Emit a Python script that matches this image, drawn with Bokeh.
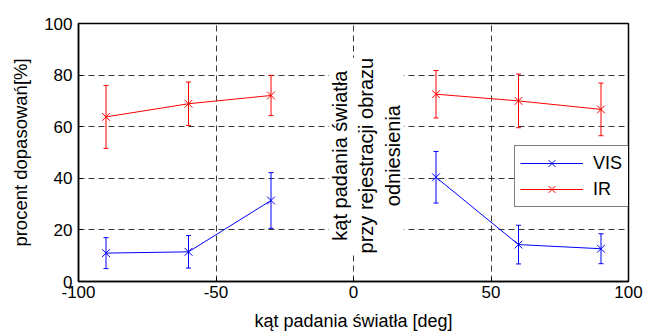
import math
from bokeh.plotting import figure
from bokeh.models import (ColumnDataSource, Whisker, TeeHead, Legend, LegendItem,
                          Label, FixedTicker, Range1d, PrintfTickFormatter)
from bokeh.embed import file_html
from bokeh.resources import INLINE

# ---- data ----
angles = [-90, -60, -30, 30, 60, 90]
vis = [11.0, 11.5, 31.4, 40.4, 14.3, 12.7]
vis_err = [6.0, 6.3, 10.8, 10.0, 7.5, 5.8]
ir = [63.8, 68.9, 72.1, 72.6, 70.0, 66.7]
ir_err = [12.2, 8.4, 7.8, 9.2, 10.4, 10.2]
x_ticks = [-100, -50, 0, 50, 100]
y_ticks = [0, 20, 40, 60, 80, 100]
series_names = ["VIS", "IR"]
series_colors = ["#0000ff", "#ff0000"]
note_text = "kąt padania światła\nprzy rejestracji obrazu\nodniesienia"
x_title = "kąt padania światła [deg]"
y_title = "procent dopasowań[%]"

FONT = "Liberation Sans"

p = figure(width=647, height=336, output_backend="svg", toolbar_location=None,
           x_range=Range1d(-100, 100), y_range=Range1d(0, 100),
           min_border_left=78, min_border_right=19, min_border_top=23,
           min_border_bottom=55)
p.background_fill_color = "white"
p.border_fill_color = "white"
p.outline_line_color = "black"
p.outline_line_width = 1.5
p.outline_line_alpha = 1

for ax, ticks in ((p.xaxis[0], x_ticks), (p.yaxis[0], y_ticks)):
    ax.ticker = FixedTicker(ticks=ticks)
    ax.formatter = PrintfTickFormatter(format="%d")
    ax.minor_tick_line_color = None
    ax.major_tick_in = 4
    ax.major_tick_out = 0
    ax.axis_line_color = "black"
    ax.axis_line_width = 1.5
    ax.major_tick_line_color = "black"
    ax.major_label_text_font = FONT
    ax.major_label_text_font_size = "17px"
    ax.major_label_text_color = "black"
    ax.axis_label_text_font = FONT
    ax.axis_label_text_font_size = "18px"
    ax.axis_label_text_font_style = "normal"
    ax.axis_label_text_color = "black"

p.xaxis.axis_label = x_title
p.yaxis.axis_label = y_title
p.yaxis.axis_label_text_font_size = "18.5px"
p.xaxis.major_label_standoff = 4
p.xaxis.axis_label_standoff = 10
p.yaxis.major_label_standoff = 6
p.yaxis.axis_label_standoff = 10

for g in (p.xgrid[0], p.ygrid[0]):
    g.grid_line_color = "#222222"
    g.grid_line_dash = "6 4"
    g.grid_line_width = 1
    g.grid_line_alpha = 0.9
p.xgrid.ticker = FixedTicker(ticks=x_ticks)
p.ygrid.ticker = FixedTicker(ticks=y_ticks)

items = []
for name, vals, errs, col in zip(series_names, [vis, ir], [vis_err, ir_err], series_colors):
    src = ColumnDataSource(dict(x=angles, y=vals,
                                upper=[v + e for v, e in zip(vals, errs)],
                                lower=[v - e for v, e in zip(vals, errs)]))
    w = Whisker(source=src, base="x", upper="upper", lower="lower",
                line_color=col, line_width=1,
                upper_head=TeeHead(size=5, line_color=col, line_width=1),
                lower_head=TeeHead(size=5, line_color=col, line_width=1),
                level="glyph")
    p.add_layout(w)
    l1 = p.line(angles[:3], vals[:3], line_color=col, line_width=1)
    p.line(angles[3:], vals[3:], line_color=col, line_width=1)
    s = p.scatter("x", "y", source=src, marker="x", size=11, line_color=col, line_width=1)
    items.append(LegendItem(label=name, renderers=[l1, s]))

legend = Legend(items=items, location=(436, 74), orientation="vertical",
                border_line_color="black", border_line_width=1.5,
                background_fill_color="white", background_fill_alpha=1,
                padding=5, spacing=2, margin=0,
                glyph_width=63, glyph_height=24, label_height=24,
                label_width=31, label_standoff=10,
                label_text_font=FONT, label_text_font_size="18px",
                label_text_color="black")
p.add_layout(legend, "center")

note = Label(x=4.7, y=48.8, text=note_text, angle=math.pi / 2,
             text_align="center", text_baseline="middle",
             text_font=FONT, text_font_size="20px", text_color="black",
             background_fill_color="white", background_fill_alpha=1)
p.add_layout(note)

open("out.html", "w").write(file_html(p, INLINE))
